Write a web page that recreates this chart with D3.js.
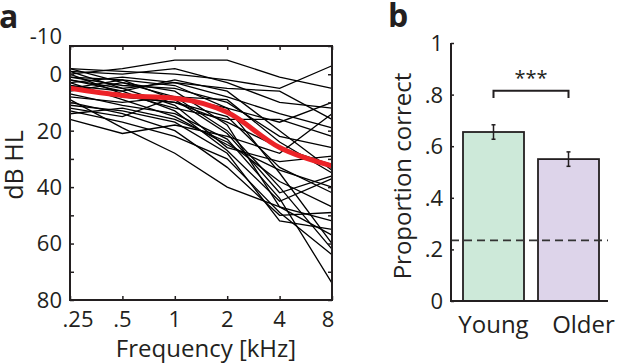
<!DOCTYPE html>
<html><head><meta charset="utf-8">
<script src="https://cdn.jsdelivr.net/npm/d3@7"></script>
<style>body{margin:0;background:#fff}svg{display:block}text{font-family:"Open Sans",sans-serif;fill:#231f20}</style>
</head><body><svg id="c" width="617" height="364"></svg>
<script>
// ---- Panel a data ----
const freqs = [0.25, 0.5, 1, 2, 4, 8];
const freqLabels = [".25", ".5", "1", "2", "4", "8"];
const dbTicks = [-10, 0, 10, 20, 30, 40, 50, 60, 70, 80];
const dbLabels = [-10, 0, 20, 40, 60, 80];
const subjects = [
  [0, -2, -5, -5, 1, 5],
  [-2, -1, 0, 2, 5, -3],
  [-1, 0, -2, 3, 10, 12],
  [2, 5, 3, 5, 6, 16],
  [3, 1, 3, 8, 14, 19],
  [1, 4, 5, 10, 22, 26],
  [4, 6, 2, 6, 20, 34],
  [5, 8, 10, 15, 33, 42],
  [-2, 3, 6, 18, 47, 52],
  [6, 3, 8, 12, 35, 60],
  [8, 10, 8, 20, 40, 62],
  [11, 13, 17, 28, 52, 55],
  [13, 17, 22, 30, 49, 64],
  [16, 21, 18, 22, 28, 14],
  [7, 11, 14, 23, 44, 74],
  [9, 19, 28, 40, 47, 57],
  [0, 7, 12, 16, 16, 22],
  [3, 9, 15, 25, 34, 40],
  [12, 15, 8, 9, 24, 35],
  [5, 2, 9, 21, 42, 36],
  [-1, 5, 11, 26, 31, 29],
  [10, 14, 20, 33, 50, 49],
  [4, 8, 10, 17, 26, 32],
  [2, 6, 13, 27, 45, 37],
  [14, 12, 16, 24, 38, 47],
  [1, 2, 4, 12, 17, 10]
];
const meanThreshold = [5, 7.5, 8.5, 13.5, 26, 32.5];

// ---- Panel b data ----
const groups = ["Young", "Older"];
const propCorrect = [0.655, 0.55];
const propErr = [0.028, 0.028];
const chance = 0.235;
const propTicks = [0, 0.2, 0.4, 0.6, 0.8, 1];
const propLabels = ["0", ".2", ".4", ".6", ".8", "1"];
const sigLabel = "***";

const svg = d3.select("#c");
const ink = "#231f20";
const fsT = 22;   // tick labels
const fsL = 24;   // axis titles

// ================= Panel a =================
const x = d3.scaleLog().base(2).domain([0.25, 8]).range([70, 332]);
const y = d3.scaleLinear().domain([-10, 80]).range([46, 300]);
const a = svg.append("g");

const line = d3.line().x((d, i) => x(freqs[i])).y(d => y(d));
a.selectAll("path.subj").data(subjects).join("path")
  .attr("class", "subj").attr("d", line)
  .attr("fill", "none").attr("stroke", "#000").attr("stroke-width", 1.3);
a.append("path").datum(meanThreshold).attr("d", line.curve(d3.curveMonotoneX))
  .attr("fill", "none").attr("stroke", "#ec2227").attr("stroke-width", 5)
  .attr("stroke-linejoin", "round");

// axes (ticks inward)
const tk = 4;
a.append("g").attr("transform", `translate(70,0)`)
  .call(d3.axisRight(y).tickValues(dbTicks).tickSize(tk).tickFormat(""))
  .call(g => g.select(".domain").remove());
a.append("g").attr("transform", `translate(332,0)`)
  .call(d3.axisLeft(y).tickValues(dbTicks).tickSize(tk).tickFormat(""))
  .call(g => g.select(".domain").remove());
a.append("g").attr("transform", `translate(0,300)`)
  .call(d3.axisTop(x).tickValues(freqs).tickSize(tk).tickFormat(""))
  .call(g => g.select(".domain").remove());
a.append("g").attr("transform", `translate(0,46)`)
  .call(d3.axisBottom(x).tickValues(freqs).tickSize(tk).tickFormat(""))
  .call(g => g.select(".domain").remove());
a.selectAll(".tick line").attr("stroke", ink).attr("stroke-width", 1.5);
a.append("rect").attr("x", 70).attr("y", 46).attr("width", 262).attr("height", 254)
  .attr("fill", "none").attr("stroke", ink).attr("stroke-width", 2);

// tick labels
a.selectAll("text.yl").data(dbLabels).join("text").attr("class", "yl")
  .attr("x", 62).attr("y", d => y(d) + (d === -10 ? -10 : 0)).attr("dy", "0.36em")
  .attr("text-anchor", "end").attr("font-size", fsT).text(d => d);
a.selectAll("text.xl").data(freqs).join("text").attr("class", "xl")
  .attr("x", (d, i) => x(d) + (i === 0 ? 8 : i === freqs.length - 1 ? -4 : 0))
  .attr("y", 327).attr("text-anchor", "middle").attr("font-size", fsT)
  .text((d, i) => freqLabels[i]);
a.append("text").attr("x", 206).attr("y", 357).attr("text-anchor", "middle")
  .attr("font-size", fsL).text("Frequency [kHz]");
a.append("text").attr("transform", "translate(23,165) rotate(-90)")
  .attr("text-anchor", "middle").attr("font-size", 25).text("dB HL");
a.append("text").attr("x", -1).attr("y", 28).attr("font-size", 32).attr("font-weight", "bold").text("a");

// ================= Panel b =================
const b = svg.append("g");
const xb = d3.scaleBand().domain(groups).range([451, 611]).paddingInner(0.1867).paddingOuter(0.16);
const yb = d3.scaleLinear().domain([0, 1]).range([301, 43]);
const colors = ["#cde9d9", "#ddd4ea"];

b.selectAll("rect.bar").data(groups).join("rect").attr("class", "bar")
  .attr("x", d => xb(d)).attr("width", xb.bandwidth())
  .attr("y", (d, i) => yb(propCorrect[i])).attr("height", (d, i) => yb(0) - yb(propCorrect[i]))
  .attr("fill", (d, i) => colors[i]).attr("stroke", ink).attr("stroke-width", 1.8);

// error bars
groups.forEach((g, i) => {
  const cx = xb(g) + xb.bandwidth() / 2;
  const lo = yb(propCorrect[i] - propErr[i]), hi = yb(propCorrect[i] + propErr[i]);
  b.append("line").attr("x1", cx).attr("x2", cx).attr("y1", lo).attr("y2", hi)
    .attr("stroke", ink).attr("stroke-width", 1.5);
  [lo, hi].forEach(v => b.append("line").attr("x1", cx - 2).attr("x2", cx + 2)
    .attr("y1", v).attr("y2", v).attr("stroke", ink).attr("stroke-width", 1.5));
});

// chance line
b.append("line").attr("x1", 451).attr("x2", 608).attr("y1", yb(chance)).attr("y2", yb(chance))
  .attr("stroke", "#333").attr("stroke-width", 1.6).attr("stroke-dasharray", "8,5");

// axes
b.append("g").attr("transform", "translate(451,0)")
  .call(d3.axisRight(yb).tickValues(propTicks).tickSize(3).tickFormat(""))
  .call(g => g.select(".domain").remove())
  .selectAll(".tick line").attr("stroke", ink).attr("stroke-width", 1.5);
b.append("line").attr("x1", 451).attr("x2", 451).attr("y1", 43).attr("y2", 301)
  .attr("stroke", ink).attr("stroke-width", 2);
b.append("line").attr("x1", 450).attr("x2", 608).attr("y1", 301).attr("y2", 301)
  .attr("stroke", ink).attr("stroke-width", 2);
b.selectAll("text.yl").data(propTicks).join("text").attr("class", "yl")
  .attr("x", 443).attr("y", d => yb(d)).attr("dy", "0.36em").attr("text-anchor", "end")
  .attr("font-size", fsT).text((d, i) => propLabels[i]);
b.selectAll("text.xl").data(groups).join("text").attr("class", "xl")
  .attr("x", (d, i) => xb(d) + xb.bandwidth() / 2 + (i === 1 ? 15 : 0)).attr("y", 333)
  .attr("text-anchor", "middle").attr("font-size", fsL).text(d => d);
b.append("text").attr("transform", "translate(411,176) rotate(-90)")
  .attr("text-anchor", "middle").attr("font-size", fsL).text("Proportion correct");

// significance bracket
const c0 = xb(groups[0]) + xb.bandwidth() / 2, c1 = xb(groups[1]) + xb.bandwidth() / 2;
const by = yb(0.815), bl = yb(0.787);
b.append("path").attr("d", `M${c0},${bl}V${by}H${c1}V${bl}`)
  .attr("fill", "none").attr("stroke", ink).attr("stroke-width", 2);
b.append("text").attr("x", (c0 + c1) / 2).attr("y", 85).attr("text-anchor", "middle")
  .attr("font-size", 20).text(sigLabel);
b.append("text").attr("x", 388).attr("y", 27).attr("font-size", 32).attr("font-weight", "bold").text("b");
</script></body></html>
